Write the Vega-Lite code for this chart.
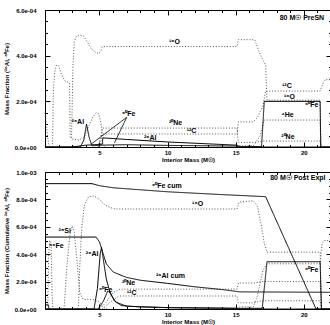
{
  "$schema": "https://vega.github.io/schema/vega-lite/v6.json",
  "padding": {"left": 2, "top": 6, "right": 2, "bottom": 2},
  "spacing": 5,
  "config": {
    "view": {"stroke": "black", "strokeWidth": 1},
    "font": "Liberation Sans",
    "axis": {"labelFont": "Liberation Sans", "labelFontSize": 6, "labelFontWeight": "bold", "labelColor": "black", "titleFont": "Liberation Sans", "titleFontSize": 6, "titleFontWeight": "bold", "titleColor": "black", "tickColor": "black", "grid": false, "domain": false}
  },
  "datasets": {
    "topL": [
      {"s":"O16a","x":1.0,"y":1.5e-4},{"s":"O16a","x":1.1,"y":1.0e-4},{"s":"O16a","x":1.2,"y":0.4e-4},{"s":"O16a","x":1.3,"y":0.05e-4},{"s":"O16a","x":1.4,"y":0},
      {"s":"O16","x":1.55,"y":0},{"s":"O16","x":1.62,"y":2.6e-4},{"s":"O16","x":1.72,"y":3.3e-4},{"s":"O16","x":1.85,"y":3.6e-4},{"s":"O16","x":2.0,"y":3.55e-4},{"s":"O16","x":2.2,"y":3.2e-4},{"s":"O16","x":2.45,"y":2.9e-4},{"s":"O16","x":2.8,"y":2.8e-4},{"s":"O16","x":2.85,"y":0.4e-4},{"s":"O16","x":2.95,"y":0.4e-4},{"s":"O16","x":3.05,"y":3.5e-4},{"s":"O16","x":3.15,"y":4.6e-4},{"s":"O16","x":3.3,"y":4.85e-4},{"s":"O16","x":3.6,"y":4.9e-4},{"s":"O16","x":3.85,"y":4.85e-4},{"s":"O16","x":4.1,"y":4.6e-4},{"s":"O16","x":4.4,"y":4.3e-4},{"s":"O16","x":4.7,"y":4.15e-4},{"s":"O16","x":4.95,"y":4.1e-4},{"s":"O16","x":5.1,"y":4.2e-4},{"s":"O16","x":5.2,"y":4.4e-4},{"s":"O16","x":15.1,"y":4.4e-4},{"s":"O16","x":15.2,"y":4.7e-4},{"s":"O16","x":16.4,"y":4.7e-4},{"s":"O16","x":16.7,"y":4.2e-4},{"s":"O16","x":17.0,"y":3.8e-4},{"s":"O16","x":17.2,"y":3.6e-4},{"s":"O16","x":17.3,"y":2.05e-4},{"s":"O16","x":21.2,"y":2.05e-4},{"s":"O16","x":21.25,"y":0},
      {"s":"Si28","x":3.0,"y":0.35e-4},{"s":"Si28","x":3.5,"y":0.3e-4},{"s":"Si28","x":3.9,"y":0.45e-4},{"s":"Si28","x":4.2,"y":0.9e-4},{"s":"Si28","x":4.5,"y":1.3e-4},{"s":"Si28","x":4.75,"y":1.5e-4},{"s":"Si28","x":4.95,"y":1.45e-4},{"s":"Si28","x":5.15,"y":0.9e-4},{"s":"Si28","x":5.25,"y":0.1e-4},{"s":"Si28","x":5.4,"y":0},
      {"s":"Ne20","x":4.9,"y":0},{"s":"Ne20","x":5.1,"y":0.5e-4},{"s":"Ne20","x":5.25,"y":0.83e-4},{"s":"Ne20","x":15.1,"y":0.83e-4},{"s":"Ne20","x":15.2,"y":0.2e-4},{"s":"Ne20","x":16.4,"y":0.2e-4},{"s":"Ne20","x":16.9,"y":0.26e-4},{"s":"Ne20","x":21.2,"y":0.26e-4},{"s":"Ne20","x":21.25,"y":0},
      {"s":"C12","x":5.0,"y":0},{"s":"C12","x":5.2,"y":0.57e-4},{"s":"C12","x":15.1,"y":0.57e-4},{"s":"C12","x":15.2,"y":1.1e-4},{"s":"C12","x":16.3,"y":1.1e-4},{"s":"C12","x":16.6,"y":1.3e-4},{"s":"C12","x":17.0,"y":1.8e-4},{"s":"C12","x":17.2,"y":2.45e-4},{"s":"C12","x":21.2,"y":2.45e-4},{"s":"C12","x":21.45,"y":2.85e-4},{"s":"C12","x":21.6,"y":2.95e-4},{"s":"C12","x":22,"y":2.95e-4},
      {"s":"He4","x":15.1,"y":0},{"s":"He4","x":15.2,"y":0.05e-4},{"s":"He4","x":16.3,"y":0.05e-4},{"s":"He4","x":16.8,"y":0.5e-4},{"s":"He4","x":17.1,"y":1.18e-4},{"s":"He4","x":21.2,"y":1.18e-4},{"s":"He4","x":21.25,"y":0},
      {"s":"Al26","x":1,"y":0},{"s":"Al26","x":3.6,"y":0},{"s":"Al26","x":3.85,"y":0.3e-4},{"s":"Al26","x":4.05,"y":1.0e-4},{"s":"Al26","x":4.25,"y":0.4e-4},{"s":"Al26","x":4.45,"y":0.05e-4},{"s":"Al26","x":5.0,"y":0.08e-4},{"s":"Al26","x":7,"y":0.1e-4},{"s":"Al26","x":10,"y":0.07e-4},{"s":"Al26","x":15.1,"y":0.04e-4},{"s":"Al26","x":15.3,"y":0},{"s":"Al26","x":22,"y":0},
      {"s":"Fe60","x":1,"y":0},{"s":"Fe60","x":3.0,"y":0},{"s":"Fe60","x":4.0,"y":0.08e-4},{"s":"Fe60","x":5.2,"y":0.12e-4},{"s":"Fe60","x":5.25,"y":0.4e-4},{"s":"Fe60","x":7,"y":0.33e-4},{"s":"Fe60","x":10,"y":0.22e-4},{"s":"Fe60","x":15.1,"y":0.08e-4},{"s":"Fe60","x":15.3,"y":0.02e-4},{"s":"Fe60","x":16.9,"y":0.02e-4},{"s":"Fe60","x":17.1,"y":2.0e-4},{"s":"Fe60","x":21.2,"y":2.0e-4},{"s":"Fe60","x":21.25,"y":0},{"s":"Fe60","x":22,"y":0}
    ],
    "botL": [
      {"s":"Fe56","x":1.2,"y":0},{"s":"Fe56","x":1.27,"y":4.0e-4},{"s":"Fe56","x":1.35,"y":5.0e-4},{"s":"Fe56","x":1.45,"y":4.8e-4},{"s":"Fe56","x":1.52,"y":1.0e-4},{"s":"Fe56","x":1.58,"y":0},
      {"s":"Si28","x":2.4,"y":0},{"s":"Si28","x":2.6,"y":3.0e-4},{"s":"Si28","x":2.85,"y":5.6e-4},{"s":"Si28","x":3.0,"y":6.05e-4},{"s":"Si28","x":3.15,"y":5.6e-4},{"s":"Si28","x":3.35,"y":3.5e-4},{"s":"Si28","x":3.55,"y":1.2e-4},{"s":"Si28","x":3.8,"y":0.7e-4},{"s":"Si28","x":4.5,"y":0.7e-4},{"s":"Si28","x":5.0,"y":0.5e-4},{"s":"Si28","x":5.3,"y":0.1e-4},{"s":"Si28","x":5.6,"y":0},
      {"s":"O16","x":3.45,"y":0},{"s":"O16","x":3.55,"y":3.0e-4},{"s":"O16","x":3.7,"y":6.0e-4},{"s":"O16","x":3.9,"y":7.6e-4},{"s":"O16","x":4.2,"y":8.2e-4},{"s":"O16","x":4.6,"y":8.25e-4},{"s":"O16","x":5.0,"y":8.0e-4},{"s":"O16","x":5.4,"y":7.6e-4},{"s":"O16","x":5.8,"y":7.4e-4},{"s":"O16","x":6.2,"y":7.3e-4},{"s":"O16","x":15.1,"y":7.3e-4},{"s":"O16","x":15.25,"y":7.8e-4},{"s":"O16","x":16.3,"y":7.9e-4},{"s":"O16","x":16.6,"y":7.5e-4},{"s":"O16","x":16.9,"y":6.0e-4},{"s":"O16","x":17.1,"y":4.8e-4},{"s":"O16","x":17.3,"y":4.15e-4},{"s":"O16","x":21.2,"y":4.15e-4},{"s":"O16","x":21.3,"y":0},
      {"s":"Ne20","x":5.0,"y":0},{"s":"Ne20","x":5.5,"y":0.5e-4},{"s":"Ne20","x":6.0,"y":1.2e-4},{"s":"Ne20","x":6.5,"y":1.45e-4},{"s":"Ne20","x":15.1,"y":1.45e-4},{"s":"Ne20","x":15.2,"y":1.9e-4},{"s":"Ne20","x":16.4,"y":1.9e-4},{"s":"Ne20","x":16.9,"y":2.0e-4},{"s":"Ne20","x":21.2,"y":2.0e-4},{"s":"Ne20","x":21.3,"y":0},
      {"s":"C12","x":5.2,"y":0},{"s":"C12","x":5.8,"y":0.5e-4},{"s":"C12","x":6.4,"y":0.95e-4},{"s":"C12","x":15.1,"y":0.95e-4},{"s":"C12","x":15.2,"y":0.45e-4},{"s":"C12","x":16.3,"y":0.45e-4},{"s":"C12","x":16.9,"y":0.6e-4},{"s":"C12","x":21.2,"y":0.6e-4},{"s":"C12","x":21.3,"y":0},
      {"s":"He4","x":15.1,"y":0},{"s":"He4","x":15.3,"y":0.15e-4},{"s":"He4","x":16.3,"y":0.15e-4},{"s":"He4","x":16.6,"y":1.0e-4},{"s":"He4","x":17.0,"y":2.8e-4},{"s":"He4","x":17.3,"y":3.3e-4},{"s":"He4","x":21.2,"y":3.3e-4},{"s":"He4","x":21.35,"y":4.8e-4},{"s":"He4","x":21.5,"y":5.0e-4},{"s":"He4","x":22,"y":5.0e-4},
      {"s":"Fe60cum","x":1,"y":9.15e-4},{"s":"Fe60cum","x":4.45,"y":9.15e-4},{"s":"Fe60cum","x":5.0,"y":9.0e-4},{"s":"Fe60cum","x":6.0,"y":8.85e-4},{"s":"Fe60cum","x":8,"y":8.7e-4},{"s":"Fe60cum","x":10.1,"y":8.55e-4},{"s":"Fe60cum","x":14,"y":8.35e-4},{"s":"Fe60cum","x":17.2,"y":8.2e-4},{"s":"Fe60cum","x":20.9,"y":0},{"s":"Fe60cum","x":22,"y":0},
      {"s":"Al26cum","x":1,"y":5.25e-4},{"s":"Al26cum","x":4.75,"y":5.25e-4},{"s":"Al26cum","x":5.0,"y":4.9e-4},{"s":"Al26cum","x":5.25,"y":4.1e-4},{"s":"Al26cum","x":5.5,"y":3.3e-4},{"s":"Al26cum","x":6.0,"y":2.7e-4},{"s":"Al26cum","x":7.0,"y":2.3e-4},{"s":"Al26cum","x":8.0,"y":2.1e-4},{"s":"Al26cum","x":10.0,"y":1.87e-4},{"s":"Al26cum","x":12,"y":1.62e-4},{"s":"Al26cum","x":14,"y":1.42e-4},{"s":"Al26cum","x":15.3,"y":1.25e-4},{"s":"Al26cum","x":22,"y":1.22e-4},
      {"s":"Al26","x":1.0,"y":0.3e-4},{"s":"Al26","x":1.25,"y":0.3e-4},{"s":"Al26","x":1.28,"y":0},{"s":"Al26","x":4.6,"y":0},{"s":"Al26","x":4.85,"y":1.5e-4},{"s":"Al26","x":5.05,"y":4.0e-4},{"s":"Al26","x":5.15,"y":4.5e-4},{"s":"Al26","x":5.3,"y":3.5e-4},{"s":"Al26","x":5.5,"y":2.2e-4},{"s":"Al26","x":5.8,"y":1.1e-4},{"s":"Al26","x":6.2,"y":0.5e-4},{"s":"Al26","x":7,"y":0.2e-4},{"s":"Al26","x":10,"y":0.1e-4},{"s":"Al26","x":15,"y":0.05e-4},{"s":"Al26","x":15.3,"y":0},{"s":"Al26","x":22,"y":0},
      {"s":"Fe60","x":1,"y":0},{"s":"Fe60","x":4.9,"y":0},{"s":"Fe60","x":5.3,"y":0.6e-4},{"s":"Fe60","x":5.6,"y":1.3e-4},{"s":"Fe60","x":5.8,"y":1.2e-4},{"s":"Fe60","x":6.1,"y":0.6e-4},{"s":"Fe60","x":6.6,"y":0.25e-4},{"s":"Fe60","x":8,"y":0.15e-4},{"s":"Fe60","x":10,"y":0.1e-4},{"s":"Fe60","x":15,"y":0.05e-4},{"s":"Fe60","x":16.95,"y":0.05e-4},{"s":"Fe60","x":17.3,"y":3.45e-4},{"s":"Fe60","x":21.2,"y":3.45e-4},{"s":"Fe60","x":21.3,"y":0},{"s":"Fe60","x":22,"y":0}
    ],
    "topT": [
      {"t":"¹⁶O","x":10.1,"y":4.6e-4},
      {"t":"²⁰Ne","x":10.1,"y":1.05e-4},
      {"t":"¹²C","x":11.4,"y":0.7e-4},
      {"t":"¹²C","x":18.4,"y":2.68e-4},
      {"t":"¹⁶O","x":18.55,"y":2.2e-4},
      {"t":"⁶⁰Fe","x":20.1,"y":1.84e-4},
      {"t":"⁴He","x":18.35,"y":1.4e-4},
      {"t":"²⁰Ne","x":18.35,"y":0.44e-4},
      {"t":"²⁶Al","x":2.95,"y":1.1e-4},
      {"t":"⁶⁰Fe","x":6.65,"y":1.45e-4},
      {"t":"²⁶Al","x":8.27,"y":0.4e-4}
    ],
    "botT": [
      {"t":"⁶⁰Fe cum","x":8.85,"y":8.98e-4},
      {"t":"¹⁶O","x":11.8,"y":7.7e-4},
      {"t":"²⁸Si","x":2.0,"y":5.7e-4},
      {"t":"⁵⁶Fe","x":1.3,"y":4.6e-4},
      {"t":"²⁶Al","x":4.0,"y":4.0e-4},
      {"t":"²⁶Al cum","x":9.15,"y":2.4e-4},
      {"t":"²⁰Ne","x":6.65,"y":1.9e-4},
      {"t":"¹²C","x":7.0,"y":1.15e-4},
      {"t":"⁶⁰Fe","x":4.96,"y":1.4e-4},
      {"t":"⁶⁰Fe","x":20.1,"y":2.85e-4}
    ],
    "topLead": [
      {"x":7.0,"y":1.3e-4,"x2":4.4,"y2":0.13e-4},
      {"x":7.0,"y":1.3e-4,"x2":6.1,"y2":0.18e-4}
    ]
  },
  "vconcat": [
    {
      "width": 286, "height": 137,
      "resolve": {"axis": {"x": "independent", "y": "independent"}},
      "layer": [
        {
          "data": {"name": "topL"},
          "mark": {"type": "line", "strokeWidth": 1},
          "encoding": {
            "x": {"field": "x", "type": "quantitative", "scale": {"domain": [1, 22], "nice": false, "zero": false}, "axis": {"orient": "bottom", "values": [5, 10, 15, 20], "ticks": false, "labelPadding": 2, "labelFlush": false, "title": "Interior Mass (M☉)", "titlePadding": 1}},
            "y": {"field": "y", "type": "quantitative", "scale": {"domain": [0, 0.0006], "nice": false}, "axis": {"orient": "left", "values": [0, 0.0002, 0.0004, 0.0006], "ticks": false, "labelPadding": 9, "labelExpr": "replace(replace(format(datum.value,'.1e'),'e-','e-0'),'e+','e+0')", "title": "Mass Fraction (²⁶Al, ⁶⁰Fe)", "titlePadding": 5}},
            "detail": {"field": "s"},
            "color": {"field": "s", "type": "nominal", "legend": null, "scale": {"domain": ["O16a","O16","Si28","Ne20","C12","He4","Fe56","Al26","Fe60","Al26cum","Fe60cum"], "range": ["#555","#555","#555","#555","#555","#555","#555","#000","#000","#000","#000"]}},
            "strokeDash": {"field": "s", "type": "nominal", "legend": null, "scale": {"domain": ["O16a","O16","Si28","Ne20","C12","He4","Fe56","Al26","Fe60","Al26cum","Fe60cum"], "range": [[1,1.8],[1,1.8],[1,1.8],[1,1.8],[1,1.8],[1,1.8],[1,1.8],[1,0],[1,0],[1,0],[1,0]]}}
          }
        },
        {
          "data": {"values": [{"x": 1, "y": 0}]},
          "mark": {"type": "point", "opacity": 0},
          "encoding": {
            "x": {"field": "x", "type": "quantitative", "scale": {"domain": [1, 22], "nice": false, "zero": false}, "axis": {"orient": "bottom", "values": [5, 10, 15, 20], "tickSize": -5, "labels": false, "title": null}},
            "y": {"field": "y", "type": "quantitative", "scale": {"domain": [0, 0.0006], "nice": false}, "axis": {"orient": "left", "values": [0, 0.0002, 0.0004, 0.0006], "tickSize": -5, "labels": false, "title": null}}
          }
        },
        {
          "data": {"values": [{"x": 1, "y": 0}]},
          "mark": {"type": "point", "opacity": 0},
          "encoding": {
            "x": {"field": "x", "type": "quantitative", "scale": {"domain": [1, 22], "nice": false, "zero": false}, "axis": {"orient": "bottom", "values": [2,3,4,6,7,8,9,11,12,13,14,16,17,18,19,21], "tickSize": -2.5, "labels": false, "title": null}},
            "y": {"field": "y", "type": "quantitative", "scale": {"domain": [0, 0.0006], "nice": false}, "axis": {"orient": "left", "values": [0.00005,0.0001,0.00015,0.00025,0.0003,0.00035,0.00045,0.0005,0.00055], "tickSize": -2.5, "labels": false, "title": null}}
          }
        },
        {
          "data": {"values": [{"x": 1, "y": 0}]},
          "mark": {"type": "point", "opacity": 0},
          "encoding": {
            "x": {"field": "x", "type": "quantitative", "scale": {"domain": [1, 22], "nice": false, "zero": false}, "axis": {"orient": "top", "values": [5, 10, 15, 20], "tickSize": -5, "labels": false, "title": null}},
            "y": {"field": "y", "type": "quantitative", "scale": {"domain": [0, 0.0006], "nice": false}, "axis": {"orient": "right", "values": [0, 0.0002, 0.0004, 0.0006], "tickSize": -5, "labels": false, "title": null}}
          }
        },
        {
          "data": {"values": [{"x": 1, "y": 0}]},
          "mark": {"type": "point", "opacity": 0},
          "encoding": {
            "x": {"field": "x", "type": "quantitative", "scale": {"domain": [1, 22], "nice": false, "zero": false}, "axis": {"orient": "top", "values": [2,3,4,6,7,8,9,11,12,13,14,16,17,18,19,21], "tickSize": -2.5, "labels": false, "title": null}},
            "y": {"field": "y", "type": "quantitative", "scale": {"domain": [0, 0.0006], "nice": false}, "axis": {"orient": "right", "values": [0.00005,0.0001,0.00015,0.00025,0.0003,0.00035,0.00045,0.0005,0.00055], "tickSize": -2.5, "labels": false, "title": null}}
          }
        },
        {
          "data": {"name": "topLead"},
          "mark": {"type": "rule", "color": "black", "strokeWidth": 0.8},
          "encoding": {
            "x": {"field": "x", "type": "quantitative", "scale": {"domain": [1, 22], "nice": false, "zero": false}, "axis": null},
            "y": {"field": "y", "type": "quantitative", "scale": {"domain": [0, 0.0006], "nice": false}, "axis": null},
            "x2": {"field": "x2"},
            "y2": {"field": "y2"}
          }
        },
        {
          "data": {"name": "topT"},
          "mark": {"type": "text", "align": "left", "baseline": "middle", "font": "Liberation Sans", "fontSize": 7, "fontWeight": "bold", "color": "black"},
          "encoding": {
            "x": {"field": "x", "type": "quantitative", "scale": {"domain": [1, 22], "nice": false, "zero": false}, "axis": null},
            "y": {"field": "y", "type": "quantitative", "scale": {"domain": [0, 0.0006], "nice": false}, "axis": null},
            "text": {"field": "t"}
          }
        },
        {
          "data": {"values": [{"t": "80 M☉  PreSN", "x": 21.5, "y": 0.000565}]},
          "mark": {"type": "text", "align": "right", "baseline": "middle", "font": "Liberation Sans", "fontSize": 7, "fontWeight": "bold", "color": "black"},
          "encoding": {
            "x": {"field": "x", "type": "quantitative", "scale": {"domain": [1, 22], "nice": false, "zero": false}, "axis": null},
            "y": {"field": "y", "type": "quantitative", "scale": {"domain": [0, 0.0006], "nice": false}, "axis": null},
            "text": {"field": "t"}
          }
        }
      ]
    },
    {
      "width": 286, "height": 137,
      "resolve": {"axis": {"x": "independent", "y": "independent"}},
      "layer": [
        {
          "data": {"name": "botL"},
          "mark": {"type": "line", "strokeWidth": 1},
          "encoding": {
            "x": {"field": "x", "type": "quantitative", "scale": {"domain": [1, 22], "nice": false, "zero": false}, "axis": {"orient": "bottom", "values": [5, 10, 15, 20], "ticks": false, "labelPadding": 2, "labelFlush": false, "title": "Interior Mass (M☉)", "titlePadding": 1}},
            "y": {"field": "y", "type": "quantitative", "scale": {"domain": [0, 0.001], "nice": false}, "axis": {"orient": "left", "values": [0, 0.0002, 0.0004, 0.0006, 0.0008, 0.001], "ticks": false, "labelPadding": 9, "labelExpr": "replace(replace(format(datum.value,'.1e'),'e-','e-0'),'e+','e+0')", "title": "Mass Fraction (Cumulative ²⁶Al, ⁶⁰Fe)", "titlePadding": 5}},
            "detail": {"field": "s"},
            "color": {"field": "s", "type": "nominal", "legend": null, "scale": {"domain": ["O16a","O16","Si28","Ne20","C12","He4","Fe56","Al26","Fe60","Al26cum","Fe60cum"], "range": ["#555","#555","#555","#555","#555","#555","#555","#000","#000","#000","#000"]}},
            "strokeDash": {"field": "s", "type": "nominal", "legend": null, "scale": {"domain": ["O16a","O16","Si28","Ne20","C12","He4","Fe56","Al26","Fe60","Al26cum","Fe60cum"], "range": [[1,1.8],[1,1.8],[1,1.8],[1,1.8],[1,1.8],[1,1.8],[1,1.8],[1,0],[1,0],[1,0],[1,0]]}}
          }
        },
        {
          "data": {"values": [{"x": 1, "y": 0}]},
          "mark": {"type": "point", "opacity": 0},
          "encoding": {
            "x": {"field": "x", "type": "quantitative", "scale": {"domain": [1, 22], "nice": false, "zero": false}, "axis": {"orient": "bottom", "values": [5, 10, 15, 20], "tickSize": -5, "labels": false, "title": null}},
            "y": {"field": "y", "type": "quantitative", "scale": {"domain": [0, 0.001], "nice": false}, "axis": {"orient": "left", "values": [0, 0.0002, 0.0004, 0.0006, 0.0008, 0.001], "tickSize": -5, "labels": false, "title": null}}
          }
        },
        {
          "data": {"values": [{"x": 1, "y": 0}]},
          "mark": {"type": "point", "opacity": 0},
          "encoding": {
            "x": {"field": "x", "type": "quantitative", "scale": {"domain": [1, 22], "nice": false, "zero": false}, "axis": {"orient": "bottom", "values": [2,3,4,6,7,8,9,11,12,13,14,16,17,18,19,21], "tickSize": -2.5, "labels": false, "title": null}},
            "y": {"field": "y", "type": "quantitative", "scale": {"domain": [0, 0.001], "nice": false}, "axis": {"orient": "left", "values": [0.00005,0.0001,0.00015,0.00025,0.0003,0.00035,0.00045,0.0005,0.00055,0.00065,0.0007,0.00075,0.00085,0.0009,0.00095], "tickSize": -2.5, "labels": false, "title": null}}
          }
        },
        {
          "data": {"values": [{"x": 1, "y": 0}]},
          "mark": {"type": "point", "opacity": 0},
          "encoding": {
            "x": {"field": "x", "type": "quantitative", "scale": {"domain": [1, 22], "nice": false, "zero": false}, "axis": {"orient": "top", "values": [5, 10, 15, 20], "tickSize": -5, "labels": false, "title": null}},
            "y": {"field": "y", "type": "quantitative", "scale": {"domain": [0, 0.001], "nice": false}, "axis": {"orient": "right", "values": [0, 0.0002, 0.0004, 0.0006, 0.0008, 0.001], "tickSize": -5, "labels": false, "title": null}}
          }
        },
        {
          "data": {"values": [{"x": 1, "y": 0}]},
          "mark": {"type": "point", "opacity": 0},
          "encoding": {
            "x": {"field": "x", "type": "quantitative", "scale": {"domain": [1, 22], "nice": false, "zero": false}, "axis": {"orient": "top", "values": [2,3,4,6,7,8,9,11,12,13,14,16,17,18,19,21], "tickSize": -2.5, "labels": false, "title": null}},
            "y": {"field": "y", "type": "quantitative", "scale": {"domain": [0, 0.001], "nice": false}, "axis": {"orient": "right", "values": [0.00005,0.0001,0.00015,0.00025,0.0003,0.00035,0.00045,0.0005,0.00055,0.00065,0.0007,0.00075,0.00085,0.0009,0.00095], "tickSize": -2.5, "labels": false, "title": null}}
          }
        },
        {
          "data": {"name": "botT"},
          "mark": {"type": "text", "align": "left", "baseline": "middle", "font": "Liberation Sans", "fontSize": 7, "fontWeight": "bold", "color": "black"},
          "encoding": {
            "x": {"field": "x", "type": "quantitative", "scale": {"domain": [1, 22], "nice": false, "zero": false}, "axis": null},
            "y": {"field": "y", "type": "quantitative", "scale": {"domain": [0, 0.001], "nice": false}, "axis": null},
            "text": {"field": "t"}
          }
        },
        {
          "data": {"values": [{"t": "80 M☉  Post Expl", "x": 21.6, "y": 0.000955}]},
          "mark": {"type": "text", "align": "right", "baseline": "middle", "font": "Liberation Sans", "fontSize": 7, "fontWeight": "bold", "color": "black"},
          "encoding": {
            "x": {"field": "x", "type": "quantitative", "scale": {"domain": [1, 22], "nice": false, "zero": false}, "axis": null},
            "y": {"field": "y", "type": "quantitative", "scale": {"domain": [0, 0.001], "nice": false}, "axis": null},
            "text": {"field": "t"}
          }
        }
      ]
    }
  ]
}
